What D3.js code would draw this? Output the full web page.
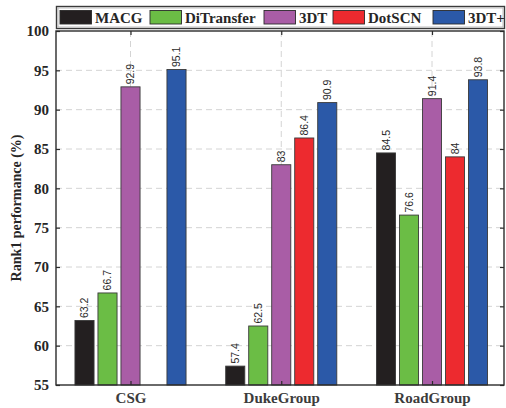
<!DOCTYPE html>
<html>
<head>
<meta charset="utf-8">
<script src="https://cdn.jsdelivr.net/npm/d3@7/dist/d3.min.js"></script>
<style>
  html, body { margin: 0; padding: 0; background: #fff; }
  svg { display: block; }
</style>
</head>
<body>
<svg id="chart" width="506" height="408"></svg>
<script>
// Rank-1 accuracy per dataset and method
const groups = ["CSG", "DukeGroup", "RoadGroup"];
const methods = ["MACG", "DiTransfer", "3DT", "DotSCN", "3DT+"];
const colors = ["#231f20", "#6bbd45", "#a95da6", "#ed2a2f", "#2b59a8"];
const MACG = [63.2, 57.4, 84.5];
const DiTransfer = [66.7, 62.5, 76.6];
const T3DT = [92.9, 83, 91.4];
const DotSCN = [null, 86.4, 84];
const T3DTplus = [95.1, 90.9, 93.8];
const series = [MACG, DiTransfer, T3DT, DotSCN, T3DTplus];
const yTicks = [55, 60, 65, 70, 75, 80, 85, 90, 95, 100];

const svg = d3.select("#chart");
const plotL = 56, plotR = 504, plotT = 31, plotB = 385;

const y = d3.scaleLinear().domain([55, 100]).range([plotB, plotT]);
const x = d3.scalePoint().domain(groups).range([130.5, 432]);
const xs = d3.scaleBand().domain(methods).range([-57.5, 57.5]).paddingInner(0.17).paddingOuter(0.085);

// dashed grid
const grid = svg.append("g");
grid.selectAll("line.h").data(yTicks.slice(1, -1)).join("line")
  .attr("x1", plotL).attr("x2", plotR)
  .attr("y1", d => y(d)).attr("y2", d => y(d))
  .attr("stroke", "#d4d4d4").attr("stroke-width", 1).attr("stroke-dasharray", "6,4");
grid.selectAll("line.v").data(groups).join("line")
  .attr("x1", d => x(d)).attr("x2", d => x(d))
  .attr("y1", plotT).attr("y2", plotB)
  .attr("stroke", "#d4d4d4").attr("stroke-width", 1).attr("stroke-dasharray", "6,4");

// bars and value labels
const rows = [];
series.forEach((vals, si) => vals.forEach((v, gi) => {
  if (v != null) rows.push({ g: groups[gi], m: methods[si], v, c: colors[si] });
}));

svg.append("g").selectAll("rect").data(rows).join("rect")
  .attr("x", d => x(d.g) + xs(d.m))
  .attr("width", xs.bandwidth())
  .attr("y", d => y(d.v))
  .attr("height", d => y(55) - y(d.v))
  .attr("fill", d => d.c)
  .attr("stroke", "#3a3a3a").attr("stroke-width", 0.9);

svg.append("g").selectAll("text").data(rows).join("text")
  .attr("transform", d => `translate(${x(d.g) + xs(d.m) + xs.bandwidth() / 2 + 3.6},${y(d.v) - 2.5}) rotate(-90)`)
  .attr("font-family", "'Liberation Sans', Arial, sans-serif")
  .attr("font-size", 10.5)
  .attr("fill", "#2a2a2a")
  .text(d => String(d.v));

// axes frame and inward ticks
const axisColor = "#2b2b2b";
const yL = d3.axisLeft(y).tickValues(yTicks).tickSize(-4).tickPadding(7).tickFormat(d3.format("d"));
const yR = d3.axisRight(y).tickValues(yTicks).tickSize(-4).tickFormat("");
const xB = d3.axisBottom(x).tickSize(-4).tickPadding(7.5);
const xT = d3.axisTop(x).tickSize(-4).tickFormat("");

const gL = svg.append("g").attr("transform", `translate(${plotL},0)`).call(yL);
const gR = svg.append("g").attr("transform", `translate(${plotR},0)`).call(yR);
const gB = svg.append("g").attr("transform", `translate(0,${plotB})`).call(xB);
const gT = svg.append("g").attr("transform", `translate(0,${plotT})`).call(xT);
[gL, gR, gB, gT].forEach(g => {
  g.select(".domain").remove();
  g.selectAll(".tick line").attr("stroke", axisColor).attr("stroke-width", 1.2);
});
gL.selectAll(".tick text")
  .attr("font-family", "'Liberation Serif', 'Times New Roman', serif")
  .attr("font-weight", "bold").attr("font-size", 15).attr("fill", "#262626");
gB.selectAll(".tick text")
  .attr("font-family", "'Liberation Serif', 'Times New Roman', serif")
  .attr("font-weight", "bold").attr("font-size", 15).attr("fill", "#3c3c3c");

svg.append("rect")
  .attr("x", plotL).attr("y", plotT)
  .attr("width", plotR - plotL).attr("height", plotB - plotT)
  .attr("fill", "none").attr("stroke", axisColor).attr("stroke-width", 1.4);

// y-axis title
svg.append("text")
  .attr("transform", `translate(21,${(plotT + plotB) / 2}) rotate(-90)`)
  .attr("text-anchor", "middle")
  .attr("font-family", "'Liberation Serif', 'Times New Roman', serif")
  .attr("font-weight", "bold").attr("font-size", 14).attr("fill", "#262626")
  .text("Rank1 performance (%)");

// legend
const lg = svg.append("g");
lg.append("rect").attr("x", 56.5).attr("y", 6.5).attr("width", 448).attr("height", 22)
  .attr("fill", "#fff").attr("stroke", "#3a3a3a").attr("stroke-width", 1.4);
lg.append("rect").attr("x", 58).attr("y", 8).attr("width", 445).attr("height", 19)
  .attr("fill", "none").attr("stroke", "#b0b0b0").attr("stroke-width", 0.8);
const legX = [60, 150, 264, 333, 433];
const item = lg.selectAll("g.item").data(methods).join("g")
  .attr("transform", (d, i) => `translate(${legX[i]},0)`);
item.append("rect").attr("x", 0).attr("y", 10.5).attr("width", 31.5).attr("height", 13.5)
  .attr("fill", (d, i) => colors[i]).attr("stroke", "#2b2b2b").attr("stroke-width", 0.9);
item.append("text").attr("x", 35).attr("y", 22.5)
  .attr("font-family", "'Liberation Serif', 'Times New Roman', serif")
  .attr("font-weight", "bold").attr("font-size", 15).attr("fill", "#262626")
  .text(d => d);
</script>
</body>
</html>
